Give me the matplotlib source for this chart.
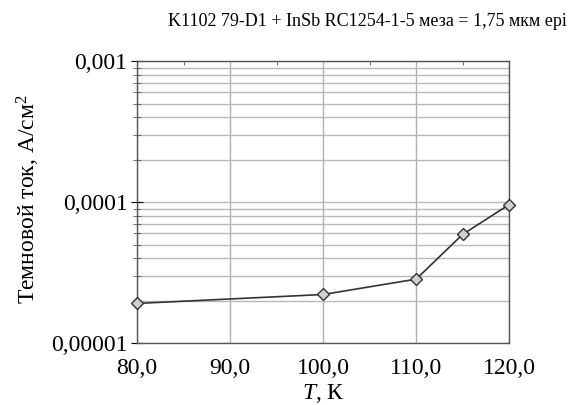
import matplotlib
matplotlib.use("Agg")
import matplotlib.pyplot as plt
from matplotlib.ticker import FixedLocator, FuncFormatter, LogLocator, NullFormatter

plt.rcParams['font.family'] = ['Liberation Serif', 'DejaVu Serif']
plt.rcParams['mathtext.fontset'] = 'custom'
plt.rcParams['mathtext.rm'] = 'Liberation Serif'
plt.rcParams['mathtext.it'] = 'Liberation Serif:italic'

# data
temp = [80, 100, 110, 115, 120]
dark_current = [1.91e-5, 2.21e-5, 2.84e-5, 5.9e-5, 9.6e-5]
x_ticks = [80, 90, 100, 110, 120]
y_ticks = [1e-5, 1e-4, 1e-3]
y_labels = ["0,00001", "0,0001", "0,001"]

fig = plt.figure(figsize=(5.74, 4.05), dpi=100)
ax = fig.add_axes([0.239, 0.153, 0.648, 0.696])

ax.set_yscale('log')
ax.set_xlim(80, 120)
ax.set_ylim(1e-5, 1e-3)

ax.plot(temp, dark_current, color='#333333', lw=1.2, marker='D', ms=6,
        mfc='#d0d0d0', mec='#333333', mew=1.0, zorder=3, clip_on=False)

ax.xaxis.set_major_locator(FixedLocator(x_ticks))
ax.xaxis.set_major_formatter(FuncFormatter(lambda v, p: f"{v:.1f}".replace('.', ',')))
ax.xaxis.set_minor_locator(FixedLocator([85, 95, 105, 115]))
ax.yaxis.set_major_locator(FixedLocator(y_ticks))
ax.yaxis.set_major_formatter(FuncFormatter(lambda v, p: y_labels[y_ticks.index(min(y_ticks, key=lambda t: abs(t - v)))]))
ax.yaxis.set_minor_locator(LogLocator(base=10, subs=range(2, 10)))
ax.yaxis.set_minor_formatter(NullFormatter())

ax.grid(True, which='major', axis='x', color='#b0b0b0', lw=1.0)
ax.grid(True, which='both', axis='y', color='#b8b8b8', lw=1.0)

ax.tick_params(axis='x', which='major', length=0, labelsize=17, pad=11)
ax.tick_params(axis='x', which='minor', top=True, bottom=False, direction='in', length=3, color='#555555')
ax.tick_params(axis='y', which='major', direction='inout', length=8, labelsize=17, pad=3)
ax.tick_params(axis='y', which='minor', direction='inout', length=6, color='#555555')

for s in ax.spines.values():
    s.set_color('#555555')
    s.set_linewidth(1.0)

ax.set_xlabel("$T$, К", fontsize=17, labelpad=2)
ax.set_ylabel("Темновой ток, А/см$^2$", fontsize=17)
ax.yaxis.set_label_coords(-0.255, 0.512)
fig.text(0.988, 0.946, "K1102 79-D1 + InSb RC1254-1-5 меза = 1,75 мкм epi",
         ha='right', va='center', fontsize=13)

fig.savefig("out.png", dpi=100)
